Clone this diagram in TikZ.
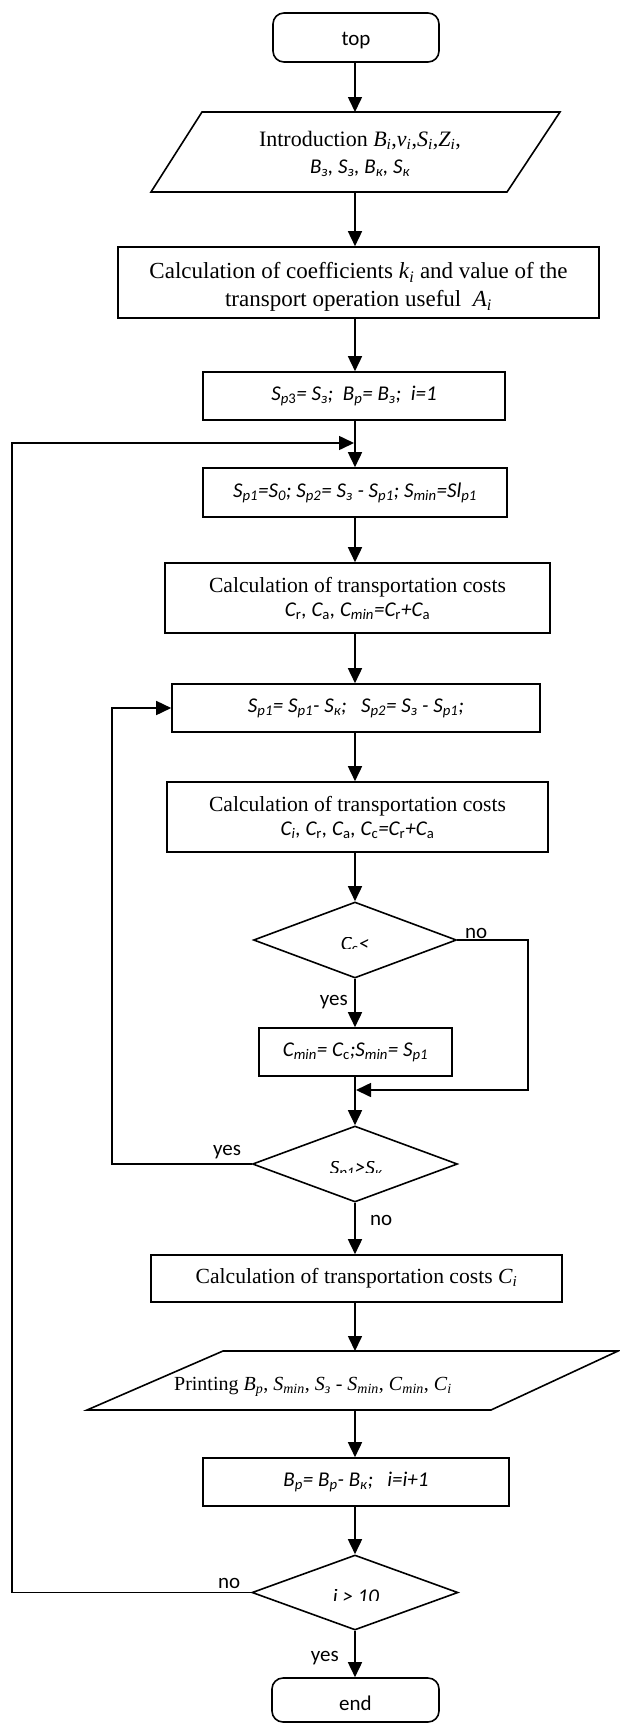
\documentclass[tikz,border=0pt]{standalone}
\usepackage{fontspec}
\setmainfont{Liberation Serif}
\newfontfamily\cf{Carlito}
\usetikzlibrary{arrows.meta,shapes.geometric}
\newcommand{\sbs}[1]{\textsubscript{#1}}
\newcommand{\csi}{\cf\itshape\fontsize{21}{25}\selectfont}
\newcommand{\tms}[2]{\fontsize{#1}{#2}\selectfont}
\begin{document}
\begin{tikzpicture}[x=1pt,y=-1pt,
  ln/.style={line width=1.6pt},
  arr/.style={ln,-{Triangle[length=15pt,width=14pt]}},
  box/.style={draw,ln,rectangle,inner sep=0pt,align=center},
  term/.style={box,rounded corners=11pt},
  dia/.style={draw,ln,diamond,inner sep=0pt},
  san/.style={font=\cf\fontsize{21}{25}\selectfont},
  sanit/.style={font=\csi},
  calcf/.style={font=\tms{21.6}{24}},
  lbl/.style={san,inner sep=0pt}]
\useasboundingbox (0,0) rectangle (619,1724);
\coordinate (ax) at (355,0);

% nodes
\node[term,minimum width=166pt,minimum height=49pt] (top) at (356,37.5) {};
\node[san,anchor=base,inner sep=0pt] (topt) at (356,45) {top};

\coordinate (p1a) at (202,112);
\coordinate (p1b) at (560,112);
\coordinate (p1c) at (507,192);
\coordinate (p1d) at (151,192);
\coordinate (p1T) at (355,112);
\coordinate (p1B) at (355,192);
\draw[ln] (p1a) -- (p1b) -- (p1c) -- (p1d) -- cycle;
\node[font=\tms{22}{27.5},align=center,inner sep=0pt] (intro) at (360,154)
  {Introduction \textit{B}\sbs{\textit{i}},\textit{v}\sbs{\textit{i}},\textit{S}\sbs{\textit{i}},\textit{Z}\sbs{\textit{i}},\\
   {\csi B\sbs{з}, S\sbs{з}, B\sbs{к}, S\sbs{к}}};

\node[box,minimum width=481pt,minimum height=71pt] (coef) at (358.5,282.5) {};
\node[font=\tms{23}{27.5},align=center,inner sep=0pt] (coeft) at (358.5,287)
  {Calculation of coefficients \textit{k}\sbs{\textit{i}} and value of the\\
   transport operation useful\enspace\textit{A}\sbs{\textit{i}}};

\node[box,sanit,minimum width=302pt,minimum height=48pt] (sp3) at (354,396)
  {S\sbs{p\upshape 3}= S\sbs{з};\ \ B\sbs{p}= B\sbs{з};\ \ i=1};

\node[box,sanit,minimum width=304pt,minimum height=49pt] (sp1) at (355,492.5)
  {S\sbs{p1}=S\sbs{0}; S\sbs{p2}= S\sbs{з} - S\sbs{p1}; S\sbs{min}=Sl\sbs{p1}};

\node[box,calcf,minimum width=385pt,minimum height=70pt] (calc1) at (357.5,598)
  {Calculation of transportation costs\\
   {\csi C\sbs{\upshape r}, C\sbs{\upshape a}, C\sbs{min}=C\sbs{\upshape r}+C\sbs{\upshape a}}};

\node[box,sanit,minimum width=368pt,minimum height=48pt] (spk) at (356,708)
  {S\sbs{p1}= S\sbs{p1}- S\sbs{к};\ \ \ S\sbs{p2}= S\sbs{з} - S\sbs{p1};};

\node[box,calcf,minimum width=381pt,minimum height=70pt] (calc2) at (357.5,817)
  {Calculation of transportation costs\\
   {\csi C\sbs{i}, C\sbs{\upshape r}, C\sbs{\upshape a}, C\sbs{\upshape c}=C\sbs{\upshape r}+C\sbs{\upshape a}}};

\node[dia,minimum width=203pt,minimum height=76pt] (dia1) at (355,940) {};
\begin{scope}
  \clip (260,937) rectangle (450,948);
  \node[sanit,anchor=north,inner sep=0pt] (t1) at (355,937) {C\sbs{\upshape c}<};
\end{scope}

\node[box,sanit,minimum width=193pt,minimum height=48pt] (cmin) at (355.5,1052)
  {C\sbs{min}= C\sbs{\upshape c};S\sbs{min}= S\sbs{p1}};

\node[dia,minimum width=205pt,minimum height=76pt] (dia2) at (355,1164) {};
\begin{scope}
  \clip (260,1161) rectangle (450,1172);
  \node[sanit,anchor=north,inner sep=0pt] (t2) at (356,1161) {S\sbs{p1}>S\sbs{к}};
\end{scope}

\node[box,calcf,minimum width=411pt,minimum height=47pt] (calcci) at (356.5,1278.5)
  {Calculation of transportation costs \textit{C}\sbs{\textit{i}}};

\coordinate (p2a) at (223,1351);
\coordinate (p2b) at (618,1351);
\coordinate (p2c) at (491,1410);
\coordinate (p2d) at (87,1410);
\coordinate (p2T) at (355,1351);
\coordinate (p2B) at (355,1410);
\draw[ln] (p2a) -- (p2b) -- (p2c) -- (p2d) -- cycle;
\node[font=\tms{20}{24},inner sep=0pt,anchor=base] (print) at (313,1390)
  {Printing \textit{B}\sbs{\textit{p}}, \textit{S}\sbs{\textit{min}}, \textit{S}\sbs{\textit{з}} - \textit{S}\sbs{\textit{min}}, \textit{C}\sbs{\textit{min}}, \textit{C}\sbs{\textit{i}}};

\node[box,sanit,minimum width=306pt,minimum height=48pt] (bp) at (356,1482)
  {B\sbs{p}= B\sbs{p}- B\sbs{к};\ \ \ i=i+1};

\node[dia,minimum width=206pt,minimum height=75pt] (dia3) at (355,1592.5) {};
\begin{scope}
  \clip (260,1589) rectangle (450,1600);
  \node[sanit,anchor=north,inner sep=0pt] (t3) at (356,1589) {i > 10};
\end{scope}

\node[term,minimum width=167pt,minimum height=44pt] (end) at (355.5,1700) {};
\node[san,anchor=base,inner sep=0pt] (endt) at (355.5,1710) {end};

% labels
\node[lbl,anchor=base west] (no1) at (465,938) {no};
\node[lbl,anchor=base east] (yes1) at (348,1005) {yes};
\node[lbl,anchor=base west] (yes2) at (213,1155) {yes};
\node[lbl,anchor=base west] (no2) at (370,1225) {no};
\node[lbl,anchor=base west] (no3) at (218,1588) {no};
\node[lbl,anchor=base east] (yes3) at (339,1661) {yes};

% main connectors
\draw[arr] (top.south -| ax) -- (p1T);
\draw[arr] (p1B) -- (coef.north -| ax);
\draw[arr] (coef.south -| ax) -- (sp3.north -| ax);
\draw[arr] (sp3.south -| ax) -- (sp1.north -| ax);
\draw[arr] (sp1.south -| ax) -- (calc1.north -| ax);
\draw[arr] (calc1.south -| ax) -- (spk.north -| ax);
\draw[arr] (spk.south -| ax) -- (calc2.north -| ax);
\draw[arr] (calc2.south -| ax) -- (dia1.north);
\draw[arr] (dia1.south) -- (cmin.north -| ax);
\draw[arr] (cmin.south -| ax) -- (dia2.north);
\draw[arr] (dia2.south) -- (calcci.north -| ax);
\draw[arr] (calcci.south -| ax) -- (p2T);
\draw[arr] (p2B) -- (bp.north -| ax);
\draw[arr] (bp.south -| ax) -- (dia3.north);
\draw[arr] (dia3.south) -- (end.north -| ax);

% loops
\coordinate (r1) at (528,940);
\coordinate (r2) at (528,1090);
\coordinate (j2) at (356,1090);
\draw[arr] (dia1.east) -- (r1) -- (r2) -- (j2);

\coordinate (l1) at (112,1164);
\coordinate (l2) at (112,708);
\draw[arr] (dia2.west) -- (l1) -- (l2) -- (spk.west);

\coordinate (o1) at (12,1592.5);
\coordinate (o2) at (12,443);
\coordinate (j1) at (354,443);
\draw[arr] (dia3.west) -- (o1) -- (o2) -- (j1);
\end{tikzpicture}
\end{document}
